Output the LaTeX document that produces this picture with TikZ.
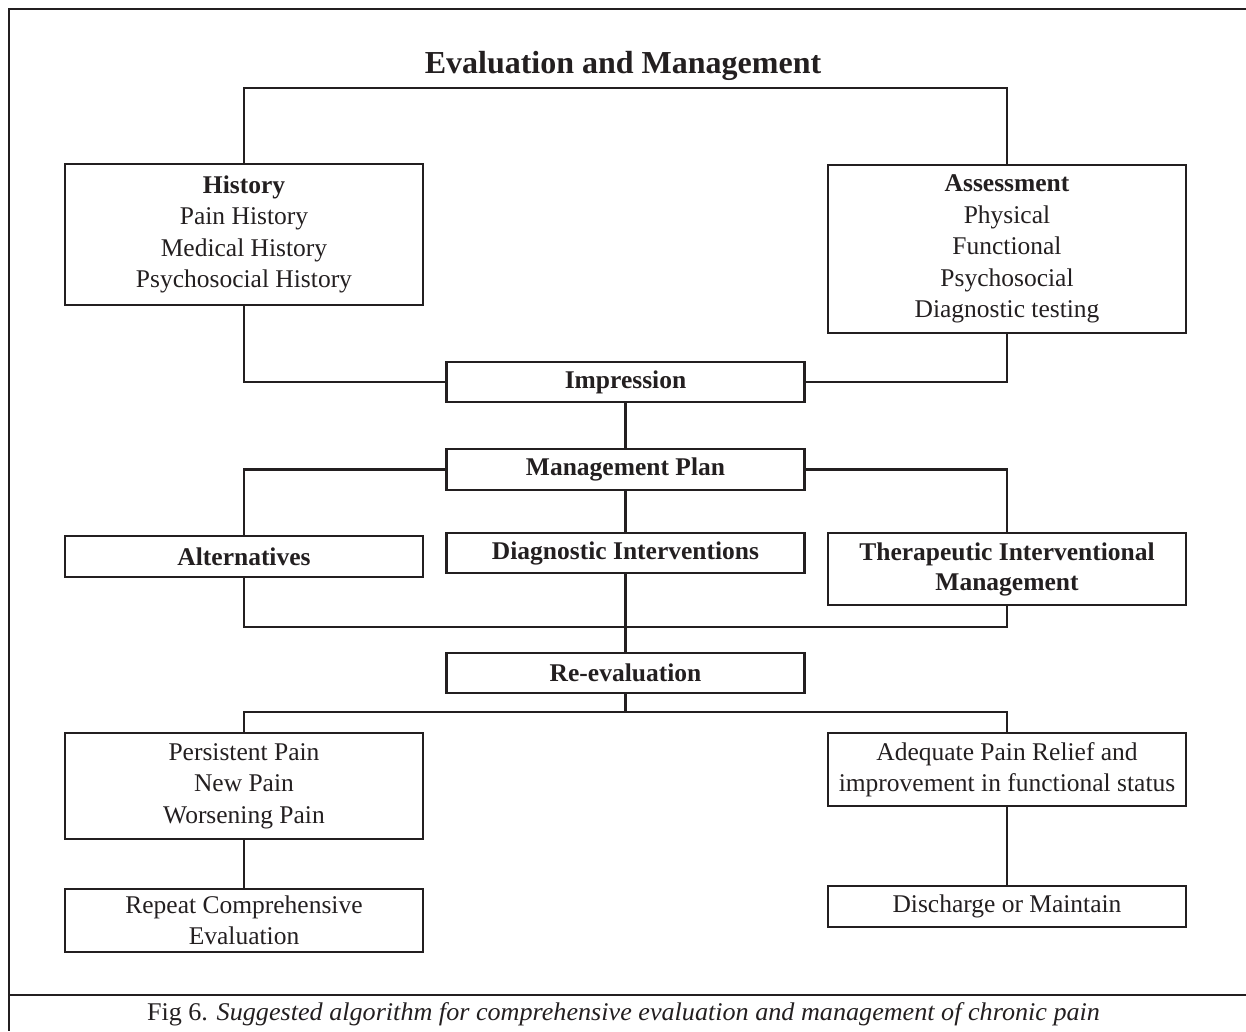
\documentclass[tikz,border=0pt]{standalone}
\usepackage{fontspec}
\setmainfont{Liberation Serif}
\usepackage{graphicx}
\definecolor{ink}{HTML}{231F20}
\tikzset{
  box/.style={draw=ink, line width=2.2pt, minimum width=358pt, inner sep=0pt, align=center, text=ink,
    font=\fontsize{25.5}{31.5}\selectfont},
  conn/.style={draw=ink, line width=2.2pt},
  frameline/.style={draw=ink, line width=2.5pt},
}
\begin{document}
\begin{tikzpicture}[x=1pt,y=-1pt]
\useasboundingbox (0,0) rectangle (1246,1031);
% frame
\draw[frameline] (1246,9) -- (9,9) -- (9,1031);
\draw[frameline] (9,995) -- (1246,995);
% title
\node[anchor=base, text=ink, font=\fontsize{32}{38}\selectfont\bfseries] (title) at (623,73) {Evaluation and Management};
% boxes
\node[box, minimum height=141pt] (hist) at (244,234.5) {\textbf{History}\\Pain History\\Medical History\\Psychosocial History};
\node[box, minimum height=168pt] (assess) at (1007,249) {\textbf{Assessment}\\Physical\\Functional\\Psychosocial\\Diagnostic testing};
\node[box, minimum height=40pt] (impr) at (625.5,382) {\textbf{Impression}};
\node[box, minimum height=41pt] (mplan) at (625.5,469.5) {\textbf{Management Plan}};
\node[box, minimum height=41pt] (alt) at (244,556.5) {\textbf{Alternatives}};
\node[box, minimum height=40pt] (diag) at (625.5,553) {\textbf{Diagnostic Interventions}};
\node[box, minimum height=72pt, font=\fontsize{25.5}{30}\selectfont] (ther) at (1007,569) {\textbf{Therapeutic Interventional}\\\textbf{Management}};
\node[box, minimum height=40pt] (reeval) at (625.5,673) {\textbf{Re-evaluation}};
\node[box, minimum height=106pt] (pers) at (244,786) {Persistent Pain\\New Pain\\Worsening Pain};
\node[box, minimum height=63pt] (rep) at (244,920.5) {Repeat Comprehensive\\Evaluation};
\node[box, minimum height=73pt] (adeq) at (1007,769.5) {Adequate Pain Relief and\\improvement in functional status};
\node[box, minimum height=41pt] (disch) at (1007,906.5) {Discharge or Maintain};
% bus coordinates
\coordinate (bus1) at (625.5,88);
\coordinate (bus2) at (625.5,627);
\coordinate (bus3) at (625.5,712);
% connectors
\draw[conn] (hist.north) |- (bus1) -| (assess.north);
\draw[conn] (hist.south) |- (impr.west);
\draw[conn] (assess.south) |- (impr.east);
\draw[conn] (impr.south) -- (mplan.north);
\draw[conn] (mplan.west) -| (alt.north);
\draw[conn] (mplan.east) -| (ther.north);
\draw[conn] (mplan.south) -- (diag.north);
\draw[conn] (alt.south) |- (bus2) -| (ther.south);
\draw[conn] (diag.south) -- (reeval.north);
\draw[conn] (reeval.south) -- (bus3);
\draw[conn] (pers.north) |- (bus3) -| (adeq.north);
\draw[conn] (pers.south) -- (rep.north);
\draw[conn] (adeq.south) -- (disch.north);
% caption
\node[anchor=base, text=ink, font=\fontsize{25.5}{30}\selectfont] (caption) at (623.5,1020)
  {\resizebox{953pt}{\height}{Fig 6. \textit{Suggested algorithm for comprehensive evaluation and management of chronic pain}}};
\end{tikzpicture}
\end{document}
